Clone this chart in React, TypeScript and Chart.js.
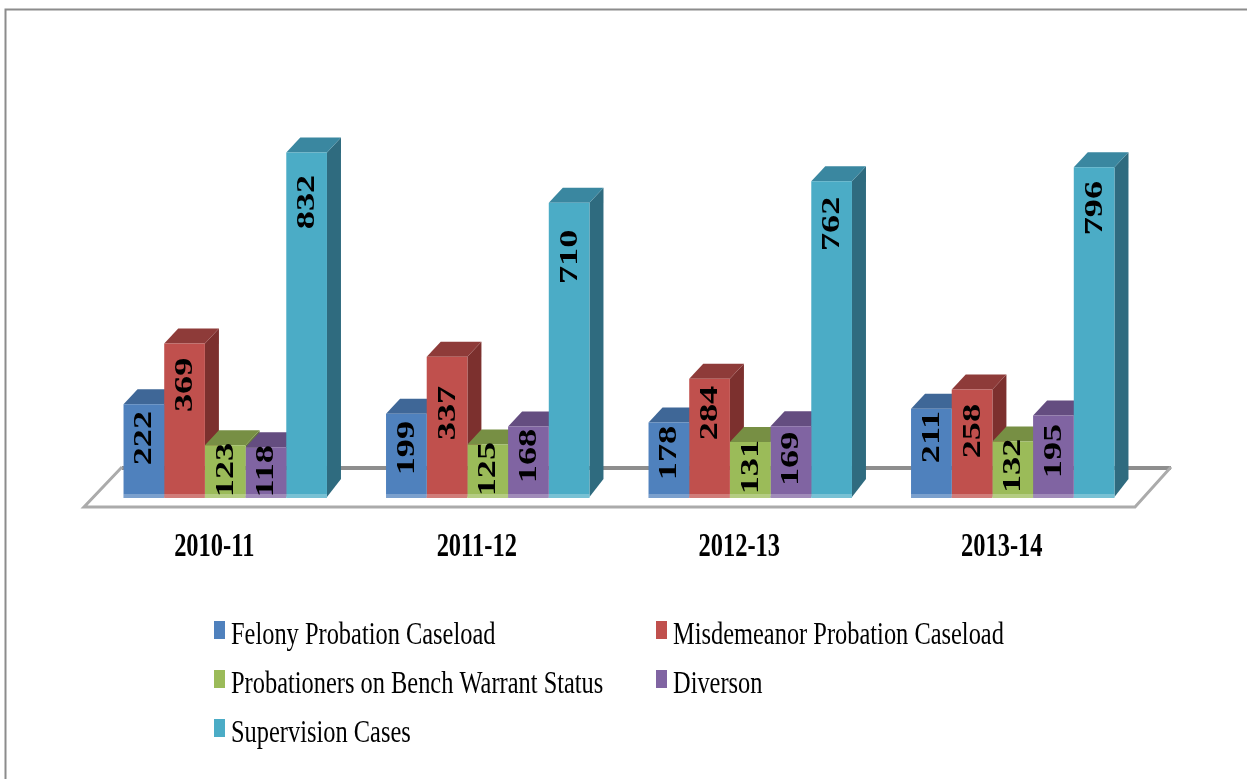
import React, { useEffect, useRef } from "react";
import { Chart, registerables } from "chart.js";

Chart.register(...registerables);

const categories = ["2010-11", "2011-12", "2012-13", "2013-14"];
const felony = [222, 199, 178, 211];
const misdemeanor = [369, 337, 284, 258];
const bench = [123, 125, 131, 132];
const diversion = [118, 168, 169, 195];
const supervision = [832, 710, 762, 796];

// Where each rotated value label is centred, in data units.
const felonyLabelAt = [140, 116, 104, 143];
const misdemeanorLabelAt = [269, 201, 201, 157];
const benchLabelAt = [63, 65, 70, 73];
const diversionLabelAt = [60, 97, 90, 109];
const supervisionLabelAt = [712, 579, 659, 697];

const seriesLabels = [
  "Felony Probation Caseload",
  "Misdemeanor Probation Caseload",
  "Probationers on Bench Warrant Status",
  "Diverson",
  "Supervision Cases",
];
const seriesColors = ["#4F81BD", "#C0504D", "#9BBB59", "#8064A2", "#4BACC6"];
const seriesTops = ["#3F6797", "#8E3B39", "#778F44", "#644D80", "#3A87A0"];
const seriesSides = ["#345580", "#7C302E", "#657A3A", "#554069", "#2F6B7F"];
const seriesValues = [felony, misdemeanor, bench, diversion, supervision];
const labelAnchors = [felonyLabelAt, misdemeanorLabelAt, benchLabelAt, diversionLabelAt, supervisionLabelAt];

const FONT = '"Liberation Serif", serif';
const DX = 14;
const DY = 15;

function squeezedText(
  ctx: CanvasRenderingContext2D,
  text: string,
  x: number,
  y: number,
  font: string,
  sx: number,
  align: CanvasTextAlign
) {
  ctx.save();
  ctx.translate(x, y);
  ctx.scale(sx, 1);
  ctx.font = font;
  ctx.textAlign = align;
  ctx.textBaseline = "middle";
  ctx.fillStyle = "#000";
  ctx.fillText(text, 0, 0);
  ctx.restore();
}

const poly = (ctx: CanvasRenderingContext2D, pts: number[][], fill: string) => {
  ctx.beginPath();
  pts.forEach((p, i) => (i ? ctx.lineTo(p[0], p[1]) : ctx.moveTo(p[0], p[1])));
  ctx.closePath();
  ctx.fillStyle = fill;
  ctx.fill();
};

const box3d = {
  id: "box3d",
  beforeDatasetsDraw(chart: any) {
    const { ctx, scales } = chart;
    const y0 = scales.y.getPixelForValue(0);

    ctx.save();
    // frame: only the top and left edges fall inside the picture
    ctx.strokeStyle = "#8C8C8C";
    ctx.lineWidth = 2;
    ctx.beginPath();
    ctx.moveTo(5.5, 779);
    ctx.lineTo(5.5, 9.5);
    ctx.lineTo(1247, 9.5);
    ctx.stroke();

    // floor
    ctx.strokeStyle = "#8E8E8E";
    ctx.lineWidth = 4;
    ctx.beginPath();
    ctx.moveTo(122, y0 - 28);
    ctx.lineTo(1171, y0 - 28);
    ctx.stroke();
    ctx.strokeStyle = "#ABABAB";
    ctx.lineWidth = 3;
    ctx.beginPath();
    ctx.moveTo(122, y0 - 29);
    ctx.lineTo(84, y0 + 11);
    ctx.lineTo(1135, y0 + 11);
    ctx.lineTo(1171, y0 - 29);
    ctx.stroke();

    // depth faces, left to right
    categories.forEach((_, c) => {
      seriesValues.forEach((__, s) => {
        const bar = chart.getDatasetMeta(s).data[c];
        const l = bar.x - bar.width / 2;
        const r = bar.x + bar.width / 2;
        const t = bar.y;
        poly(ctx, [[r, t], [r + DX, t - DY], [r + DX, y0 - DY - 2], [r, y0 + 1]], seriesSides[s]);
        poly(ctx, [[l, t], [l + DX, t - DY], [r + DX, t - DY], [r, t]], seriesTops[s]);
      });
    });
    ctx.restore();
  },
  afterDatasetsDraw(chart: any) {
    const { ctx, scales } = chart;
    const y0 = scales.y.getPixelForValue(0);
    ctx.save();
    // pale foot of each column
    categories.forEach((_, c) => {
      seriesValues.forEach((__, s) => {
        const bar = chart.getDatasetMeta(s).data[c];
        const l = bar.x - bar.width / 2;
        ctx.fillStyle = seriesColors[s];
        ctx.fillRect(l, y0, bar.width, 2);
        ctx.fillStyle = "rgba(255,255,255,0.25)";
        ctx.fillRect(l, y0 - 2, bar.width, 4);
      });
    });

    // value labels
    seriesValues.forEach((vals, s) => {
      vals.forEach((v, c) => {
        const bar = chart.getDatasetMeta(s).data[c];
        ctx.save();
        ctx.translate(bar.x + 1, scales.y.getPixelForValue(labelAnchors[s][c]));
        ctx.rotate(-Math.PI / 2);
        squeezedText(ctx, String(v), 0, 0, `bold 25px ${FONT}`, 1.45, "center");
        ctx.restore();
      });
    });

    // category labels
    categories.forEach((cat, c) => {
      squeezedText(ctx, cat, scales.x.getPixelForValue(c) - 11, 547, `bold 34px ${FONT}`, 0.72, "center");
    });

    // legend
    const cols = [213, 655];
    const rows = [634, 683, 732];
    seriesLabels.forEach((label, i) => {
      const x = cols[i % 2];
      const y = rows[Math.floor(i / 2)];
      ctx.fillStyle = seriesColors[i];
      ctx.fillRect(x + 1, y - 13, 11, 18);
      squeezedText(ctx, label, x + 18, y + 2, `32px ${FONT}`, 0.763, "left");
    });
    ctx.restore();
  },
};

export default function App() {
  const ref = useRef<HTMLCanvasElement>(null);
  useEffect(() => {
    document.body.style.margin = "0";
    const chart = new Chart(ref.current as HTMLCanvasElement, {
      type: "bar",
      data: {
        labels: categories,
        datasets: seriesValues.map((data, i) => ({
          label: seriesLabels[i],
          data,
          backgroundColor: seriesColors[i],
          borderWidth: 0,
          barPercentage: 1,
          categoryPercentage: 0.775,
        })),
      },
      options: {
        responsive: false,
        animation: false,
        layout: { padding: { left: 94, right: 103, top: 83, bottom: 283 } },
        plugins: { legend: { display: false }, title: { display: false }, tooltip: { enabled: false } },
        scales: {
          x: { display: false, grid: { display: false } },
          y: { display: false, min: 0, max: 1000, grid: { display: false } },
        },
      },
      plugins: [box3d],
    });
    return () => chart.destroy();
  }, []);
  return <canvas ref={ref} width={1247} height={779} style={{ display: "block" }} />;
}
